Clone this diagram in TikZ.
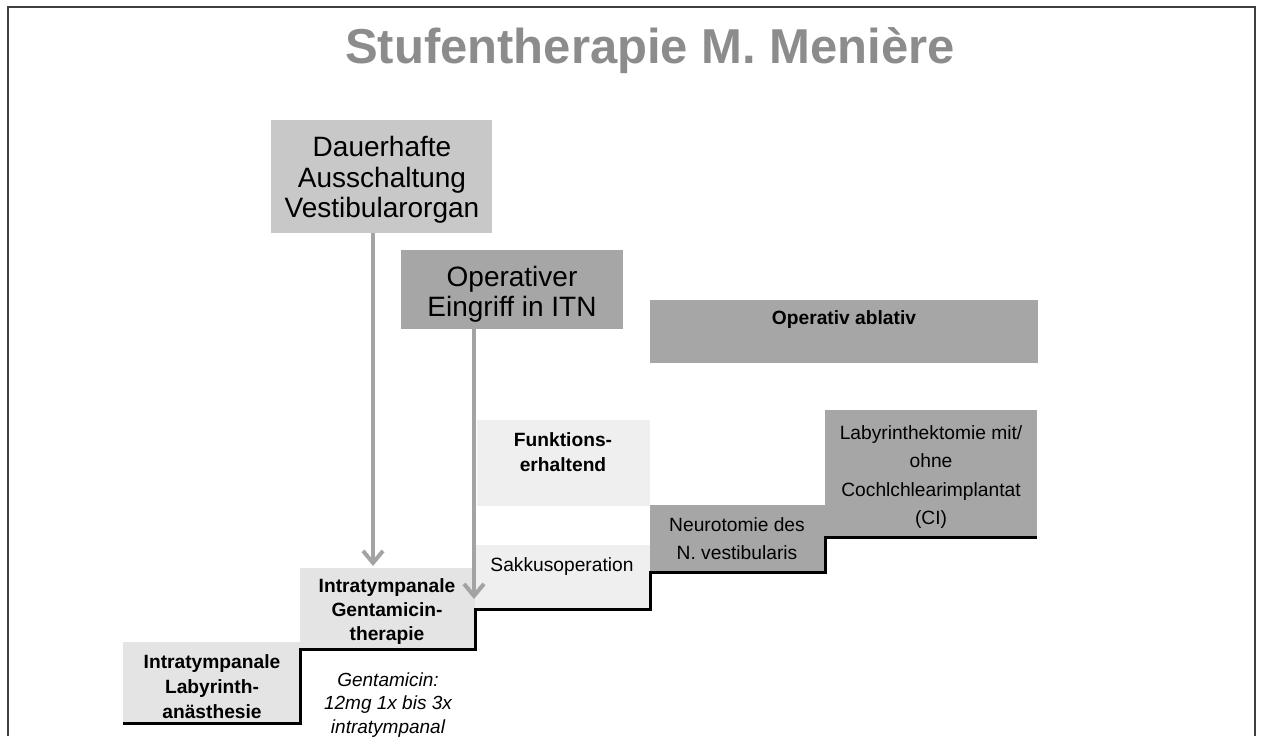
\documentclass[tikz,border=0pt]{standalone}
\usepackage{fontspec}
\setmainfont{Liberation Sans}
\usetikzlibrary{arrows.meta,fit}
\definecolor{titlegray}{HTML}{8C8C8C}
\definecolor{framec}{HTML}{404040}
\definecolor{lightA}{HTML}{C8C8C8}
\definecolor{darkA}{HTML}{A6A6A6}
\definecolor{paleA}{HTML}{EFEFEF}
\definecolor{stepA}{HTML}{E4E4E4}
\definecolor{arrowc}{HTML}{A3A3A3}
\begin{document}
\begin{tikzpicture}[x=0.5pt,y=-0.5pt,
  box/.style={inner sep=0pt, outer sep=0pt, draw=none},
  txt/.style={align=center, inner sep=0pt, text=black},
  big/.style={font={\fontsize{14}{#1}\selectfont\lineskiplimit=-20pt}},
  sm/.style={font={\fontsize{9.6}{#1}\selectfont\lineskiplimit=-20pt}},
  smb/.style={font={\fontsize{9.6}{#1}\bfseries\lineskiplimit=-20pt}},
  smi/.style={font={\fontsize{9.5}{#1}\itshape\lineskiplimit=-20pt}},
  conn/.style={draw=arrowc, line width=2pt, -{Straight Barb[length=6pt,width=10pt]}},
  stepline/.style={draw=black, line width=1.5pt, line join=miter}]
\path[use as bounding box] (0,0) rectangle (1261,736);
% frame
\draw[framec, line width=1pt] (8,736) -- (8,7) -- (1255,7) -- (1255,736);
% title
\node (title) [anchor=base, text=titlegray, inner sep=0pt,
  font={\fontsize{24.5}{28}\bfseries}] at (650,63) {Stufentherapie M. Menière};
% boxes
\node (dauer) [box, fill=lightA, fit={(271,120) (492,233)}] {};
\node (oper)  [box, fill=darkA,  fit={(401,250) (623,329)}] {};
\node (abl)   [box, fill=darkA,  fit={(650,300) (1038,363)}] {};
\node (funk)  [box, fill=paleA,  fit={(477,420) (650,506)}] {};
\node (sak)   [box, fill=paleA,  fit={(475,545) (650,609)}] {};
\node (neu)   [box, fill=darkA,  fit={(650,505) (825,572)}] {};
\node (lab)   [box, fill=darkA,  fit={(825,410) (1037,537)}] {};
\node (gent)  [box, fill=stepA,  fit={(300,568) (475,649)}] {};
\node (ana)   [box, fill=stepA,  fit={(123,642) (300,723)}] {};
% texts
\node (tDauer) [txt, big=15.25] at (382,180) {Dauerhafte\\Ausschaltung\\Vestibularorgan};
\node (tOper)  [txt, big=15] at (512,294) {Operativer\\Eingriff in ITN};
\node (tAbl)   [txt, smb=12] at (844,320) {Operativ ablativ};
\node (tFunk)  [txt, smb=12.5] at (563,452) {Funktions-\\erhaltend};
\node (tSak)   [txt, sm=12] at (562,567) {Sakkusoperation};
\node (tNeu)   [txt, sm=14] at (737,539) {Neurotomie des\\N. vestibularis};
\node (tLab)   [txt, sm=14.3] at (931,477) {Labyrinthektomie mit/\\ohne\\Cochlchlearimplantat\\(CI)};
\node (tGent)  [txt, smb=12] at (387,612) {Intratympanale\\Gentamicin-\\therapie};
\node (tAna)   [txt, smb=12.5] at (212,687) {Intratympanale\\Labyrinth-\\anästhesie};
\node (tNote)  [txt, smi=11.75] at (388,705) {Gentamicin:\\12mg 1x bis 3x\\intratympanal};
% step line
\draw[stepline] (ana.south west) -- (ana.south east) -- (gent.south west)
  -- (gent.south east) -- (sak.south west) -- (sak.south east)
  -- (neu.south west) -- (neu.south east) -- (lab.south west) -- (lab.south east);
% arrows
\coordinate (ax1) at (373,0);
\coordinate (ax2) at (474,0);
\draw[conn, shorten >=1pt] (dauer.south -| ax1) -- (gent.north -| ax1);
\draw[conn, shorten >=5pt] (oper.south -| ax2) -- (sak.south -| ax2);
\end{tikzpicture}
\end{document}
